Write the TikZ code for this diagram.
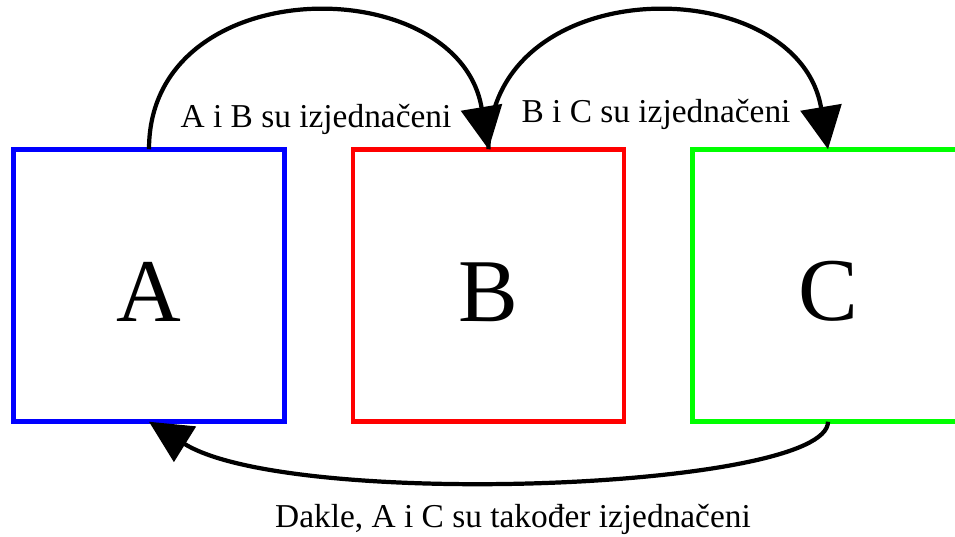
\documentclass[tikz,border=0pt]{standalone}
\usepackage{fontspec}
\setmainfont{Liberation Serif}
\definecolor{eqBlue}{RGB}{0,0,255}
\definecolor{eqRed}{RGB}{255,0,0}
\definecolor{eqGreen}{RGB}{0,255,0}
\usetikzlibrary{arrows.meta,positioning}

\begin{document}
\begin{tikzpicture}[every node/.style={font=\fontsize{19}{23}\selectfont},
  setbox/.style={draw, line width=2.6pt, minimum width=5.42cm, minimum height=5.45cm,
    inner sep=0pt, outer sep=0pt, text height=1.43cm, font=\fontsize{51}{60}\selectfont},
  eqarrow/.style={line width=2.4pt, -{Triangle[length=0.85cm, width=0.82cm]}}]
  \useasboundingbox (0,0) rectangle (19.1,10.74);
  \node[setbox, draw=eqBlue] (A) at (2.98,5.03) {A};
  \node[setbox, draw=eqRed, right=1.37cm of A] (B) {B};
  \node[setbox, draw=eqGreen, right=1.37cm of B] (C) {C};
  % Labels
  \node[anchor=base] (ab) at (6.32,8.18) {A i B su izjednačeni};
  \node[anchor=base] (bc) at (13.12,8.28) {B i C su izjednačeni};
  \node[anchor=base] (ac) at (10.26,0.18) {Dakle, A i C su također izjednačeni};
  % Arrows
  \draw[eqarrow] (A.north) .. controls +(0,3.6) and +(-0.6,3.6) .. (B.north);
  \draw[eqarrow] (B.north) .. controls +(0,3.6) and +(-0.6,3.6) .. (C.north);
  \draw[eqarrow] (C.south) .. controls +(0,-1.36) and +(2.82,-1.76) .. (A.south);
\end{tikzpicture}
\end{document}
